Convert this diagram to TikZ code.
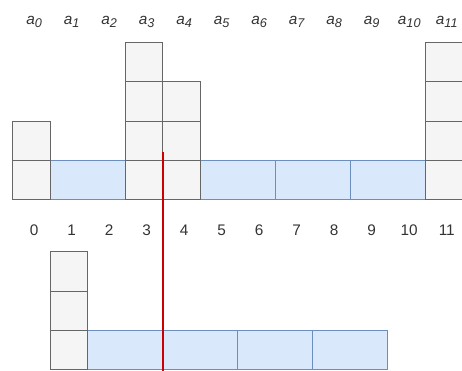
\documentclass[tikz,border=0pt]{standalone}
\usepackage{fontspec}
\setmainfont{Liberation Sans}
\definecolor{cellgray}{HTML}{F5F5F5}
\definecolor{cellline}{HTML}{666666}
\definecolor{waterblue}{HTML}{DAE8FC}
\definecolor{waterline}{HTML}{6C8EBF}
\definecolor{cutred}{HTML}{CC0000}
\definecolor{labelgray}{HTML}{333333}
\newcommand{\alab}[1]{\textit{a}\raisebox{-2.6pt}{\fontsize{9.5}{9.5}\selectfont\textit{#1}}}

\begin{document}
\begin{tikzpicture}[x=0.75pt, y=-0.75pt,
  bar/.style={fill=cellgray, draw=cellline, line width=0.75pt},
  water/.style={fill=waterblue, draw=waterline, line width=0.75pt},
  lab/.style={text=labelgray, font=\fontsize{11.5}{13}\selectfont, anchor=base, inner sep=0pt}]
  \useasboundingbox (0,0) rectangle (462,371);

  % obere Reihe: Wasser zwischen den Balken
  \foreach \l in {50.5,200.5,275.5,350.5}
    \draw[water] (\l,160.6) rectangle ++(75,39.4);
  % Balken (Spalte/Hoehe)
  \foreach \c/\h in {0/2,3/4,4/3,11/4}
    \foreach \r in {1,...,\h}
      \draw[bar] ({13+37.5*\c},{200-39.4*(\r-1)}) rectangle ++(37.5,-39.4);

  % Beschriftungen
  \foreach \i in {0,...,11} {
    \node[lab] (a\i) at ({34.25+37.5*\i},24) {\alab{\i}};
    \node[lab] (n\i) at ({34.25+37.5*\i},235) {\i};
  }

  % untere Reihe
  \foreach \l in {88,163,238,313}
    \draw[water] (\l,330.6) rectangle ++(75,39.4);
  \foreach \r in {1,2,3}
    \draw[bar] (50.5,{370-39.4*(\r-1)}) rectangle ++(37.5,-39.4);

  % Schnittlinie
  \coordinate (cuttop) at (163,152);
  \coordinate (cutbot) at (163,371);
  \draw[cutred, line width=1.6pt] (cuttop) -- (cutbot);
\end{tikzpicture}
\end{document}
